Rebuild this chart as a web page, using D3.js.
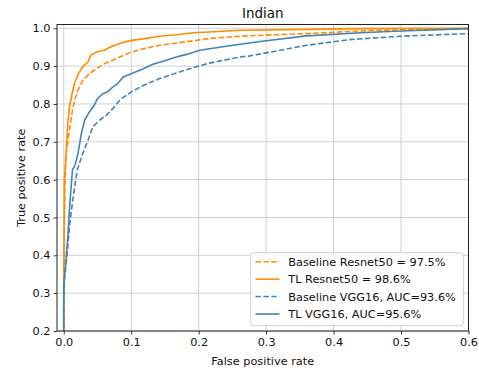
<!DOCTYPE html>
<html>
<head>
<meta charset="utf-8">
<script src="https://cdn.jsdelivr.net/npm/d3@7"></script>
<style>
  html, body { margin: 0; padding: 0; background: #fff; }
  svg { display: block; font-family: "DejaVu Sans", sans-serif; }
</style>
</head>
<body>
<svg id="chart" width="479" height="372"></svg>
<script>
// ROC curves for the "Indian" subset
const title = "Indian";
const xTicks = [0.0, 0.1, 0.2, 0.3, 0.4, 0.5, 0.6];
const yTicks = [0.2, 0.3, 0.4, 0.5, 0.6, 0.7, 0.8, 0.9, 1.0];

const seriesNames = [
  "Baseline Resnet50 = 97.5%",
  "TL Resnet50 = 98.6%",
  "Baseline VGG16, AUC=93.6%",
  "TL VGG16, AUC=95.6%"
];

const baseResnetFpr = [0, 0, 0.001, 0.002, 0.0034, 0.006, 0.0084, 0.012, 0.016, 0.022, 0.028, 0.038, 0.048, 0.060, 0.068, 0.083, 0.1, 0.118, 0.142, 0.167, 0.192, 0.216, 0.261, 0.30, 0.36, 0.44, 0.5, 0.6];
const baseResnetTpr = [0, 0.3, 0.5, 0.6, 0.668, 0.70, 0.730, 0.774, 0.810, 0.840, 0.862, 0.880, 0.893, 0.906, 0.912, 0.924, 0.937, 0.946, 0.955, 0.961, 0.967, 0.973, 0.979, 0.982, 0.986, 0.993, 0.996, 0.999];

const tlResnetFpr = [0, 0, 0.0005, 0.001, 0.0034, 0.006, 0.0084, 0.0119, 0.0158, 0.0218, 0.028, 0.036, 0.040, 0.050, 0.060, 0.070, 0.083, 0.1, 0.118, 0.142, 0.167, 0.192, 0.216, 0.261, 0.36, 0.44, 0.6];
const tlResnetTpr = [0, 0.25, 0.45, 0.6, 0.668, 0.748, 0.792, 0.823, 0.854, 0.880, 0.898, 0.911, 0.929, 0.938, 0.942, 0.951, 0.960, 0.968, 0.972, 0.979, 0.983, 0.988, 0.990, 0.995, 0.997, 0.999, 1.0];

const baseVggFpr = [0, 0, 0.001, 0.005, 0.009, 0.014, 0.020, 0.028, 0.036, 0.043, 0.053, 0.063, 0.073, 0.083, 0.1, 0.118, 0.142, 0.167, 0.192, 0.216, 0.261, 0.276, 0.30, 0.36, 0.424, 0.5, 0.6];
const baseVggTpr = [0, 0.28, 0.335, 0.405, 0.485, 0.555, 0.626, 0.668, 0.704, 0.739, 0.757, 0.770, 0.788, 0.810, 0.832, 0.849, 0.867, 0.882, 0.896, 0.908, 0.924, 0.927, 0.935, 0.955, 0.970, 0.979, 0.986];

const tlVggFpr = [0, 0, 0.003, 0.006, 0.009, 0.013, 0.017, 0.021, 0.026, 0.031, 0.038, 0.045, 0.050, 0.058, 0.065, 0.073, 0.080, 0.088, 0.1, 0.118, 0.132, 0.147, 0.167, 0.182, 0.202, 0.216, 0.261, 0.30, 0.36, 0.44, 0.5, 0.6];
const tlVggTpr = [0, 0.32, 0.38, 0.448, 0.536, 0.626, 0.64, 0.668, 0.721, 0.757, 0.779, 0.796, 0.814, 0.827, 0.832, 0.845, 0.854, 0.871, 0.880, 0.893, 0.905, 0.913, 0.924, 0.931, 0.942, 0.946, 0.958, 0.967, 0.980, 0.988, 0.993, 0.999];

const colors = ["#ff8c00", "#ff8c00", "#4682b4", "#4682b4"];
const dashed = [true, false, true, false];

const series = [
  { name: seriesNames[0], fpr: baseResnetFpr, tpr: baseResnetTpr, color: colors[0], dashed: dashed[0] },
  { name: seriesNames[1], fpr: tlResnetFpr, tpr: tlResnetTpr, color: colors[1], dashed: dashed[1] },
  { name: seriesNames[2], fpr: baseVggFpr, tpr: baseVggTpr, color: colors[2], dashed: dashed[2] },
  { name: seriesNames[3], fpr: tlVggFpr, tpr: tlVggTpr, color: colors[3], dashed: dashed[3] }
];

const svg = d3.select("#chart");
const plot = { left: 57, right: 468.5, top: 24.5, bottom: 331 };

const x = d3.scaleLinear().domain([-0.01, 0.6]).range([plot.left, plot.right]);
const y = d3.scaleLinear().domain([0.2, 1.01]).range([plot.bottom, plot.top]);

const fontSize = 11.3;
const dashArray = "5.5,2.4";

// grid
const grid = svg.append("g");
grid.selectAll("line.gx").data(xTicks).join("line")
  .attr("x1", d => x(d)).attr("x2", d => x(d))
  .attr("y1", plot.top).attr("y2", plot.bottom)
  .attr("stroke", "#d0d0d0").attr("stroke-width", 1);
grid.selectAll("line.gy").data(yTicks).join("line")
  .attr("y1", d => y(d)).attr("y2", d => y(d))
  .attr("x1", plot.left).attr("x2", plot.right)
  .attr("stroke", "#d0d0d0").attr("stroke-width", 1);

// curves
svg.append("defs").append("clipPath").attr("id", "clip")
  .append("rect")
  .attr("x", plot.left).attr("y", plot.top)
  .attr("width", plot.right - plot.left).attr("height", plot.bottom - plot.top);

const line = d3.line().x(d => x(d[0])).y(d => y(d[1]));
const curves = svg.append("g").attr("clip-path", "url(#clip)");
series.forEach(s => {
  const pts = s.fpr.map((f, i) => [f, s.tpr[i]]);
  curves.append("path")
    .datum(pts)
    .attr("d", line)
    .attr("fill", "none")
    .attr("stroke", s.color)
    .attr("stroke-width", 1.6)
    .attr("stroke-linejoin", "round")
    .attr("stroke-dasharray", s.dashed ? dashArray : null);
});

// axes
const xAxis = d3.axisBottom(x).tickValues(xTicks).tickFormat(d3.format(".1f")).tickSizeOuter(0).tickSize(3.5).tickPadding(3);
const yAxis = d3.axisLeft(y).tickValues(yTicks).tickFormat(d3.format(".1f")).tickSizeOuter(0).tickSize(3.5).tickPadding(3);

const gx = svg.append("g").attr("transform", `translate(0,${plot.bottom})`).call(xAxis);
const gy = svg.append("g").attr("transform", `translate(${plot.left},0)`).call(yAxis);
[gx, gy].forEach(g => {
  g.select(".domain").remove();
  g.selectAll("line").attr("stroke", "#222").attr("stroke-width", 0.9);
  g.selectAll("text").attr("fill", "#111").style("font-size", fontSize + "px")
    .style("font-family", "'DejaVu Sans', sans-serif");
});

// frame
svg.append("rect")
  .attr("x", plot.left).attr("y", plot.top)
  .attr("width", plot.right - plot.left).attr("height", plot.bottom - plot.top)
  .attr("fill", "none").attr("stroke", "#222").attr("stroke-width", 1);

// title and axis labels
svg.append("text")
  .attr("x", (plot.left + plot.right) / 2).attr("y", 18.3)
  .attr("text-anchor", "middle").style("font-size", "13.5px").attr("fill", "#111")
  .text(title);
svg.append("text")
  .attr("x", (plot.left + plot.right) / 2).attr("y", 365)
  .attr("text-anchor", "middle").style("font-size", fontSize + "px").attr("fill", "#111")
  .text("False positive rate");
svg.append("text")
  .attr("transform", `translate(24.5,${(plot.top + plot.bottom) / 2}) rotate(-90)`)
  .attr("text-anchor", "middle").style("font-size", fontSize + "px").attr("fill", "#111")
  .text("True positive rate");

// legend
const lg = svg.append("g");
lg.append("rect")
  .attr("x", 250.7).attr("y", 252.7).attr("width", 212.6).attr("height", 73)
  .attr("rx", 2.5).attr("fill", "#fff").attr("fill-opacity", 0.85)
  .attr("stroke", "#d0d0d0").attr("stroke-width", 1);
const rowY = d3.scaleLinear().domain([0, 3]).range([261.7, 314]);
series.forEach((s, i) => {
  lg.append("line")
    .attr("x1", 255.5).attr("x2", 279.5)
    .attr("y1", rowY(i)).attr("y2", rowY(i))
    .attr("stroke", s.color).attr("stroke-width", 1.6)
    .attr("stroke-dasharray", s.dashed ? dashArray : null);
  lg.append("text")
    .attr("x", 288.3).attr("y", rowY(i) + 4.1)
    .style("font-size", fontSize + "px").attr("fill", "#111")
    .text(s.name);
});
</script>
</body>
</html>
